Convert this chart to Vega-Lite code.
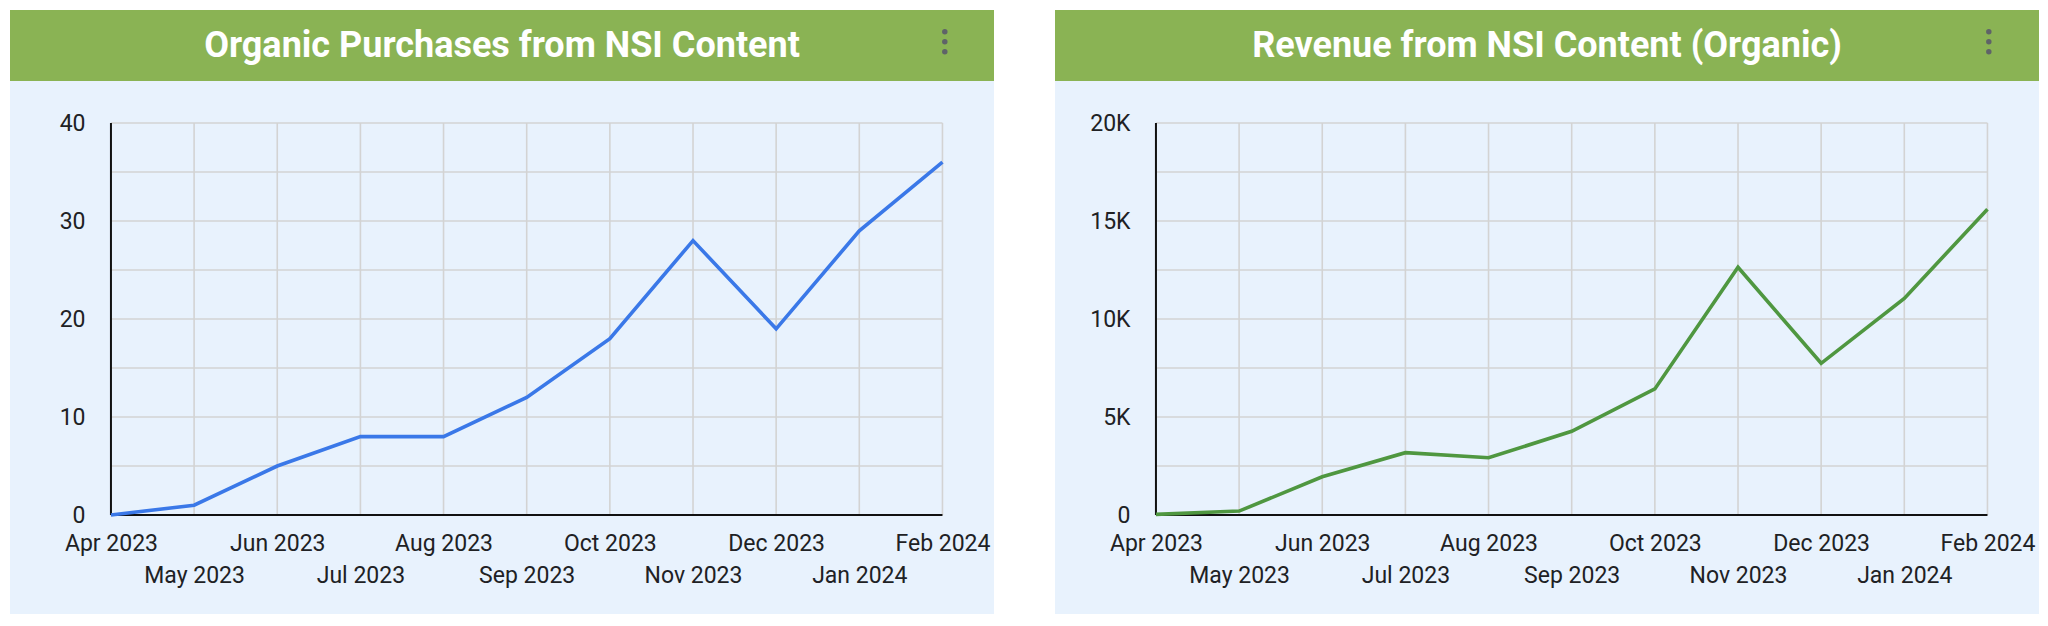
{
  "$schema": "https://vega.github.io/schema/vega-lite/v6.json",
  "background": "white",
  "padding": {"left": 10, "top": 10, "right": 0, "bottom": 0},
  "config": {
    "view": {"stroke": null},
    "font": "Roboto",
    "axis": {"labelFont": "Roboto", "labelFontSize": 23, "labelColor": "#202124", "ticks": false, "tickSize": 0, "domain": false, "grid": false, "labelOverlap": false}
  },
  "datasets": {
    "purchases": [
      {"month": "Apr 2023", "value": 0},
      {"month": "May 2023", "value": 1},
      {"month": "Jun 2023", "value": 5},
      {"month": "Jul 2023", "value": 8},
      {"month": "Aug 2023", "value": 8},
      {"month": "Sep 2023", "value": 12},
      {"month": "Oct 2023", "value": 18},
      {"month": "Nov 2023", "value": 28},
      {"month": "Dec 2023", "value": 19},
      {"month": "Jan 2024", "value": 29},
      {"month": "Feb 2024", "value": 36}
    ],
    "revenue": [
      {"month": "Apr 2023", "value": 30},
      {"month": "May 2023", "value": 200},
      {"month": "Jun 2023", "value": 1950},
      {"month": "Jul 2023", "value": 3180},
      {"month": "Aug 2023", "value": 2920},
      {"month": "Sep 2023", "value": 4270},
      {"month": "Oct 2023", "value": 6430},
      {"month": "Nov 2023", "value": 12640},
      {"month": "Dec 2023", "value": 7740},
      {"month": "Jan 2024", "value": 11050},
      {"month": "Feb 2024", "value": 15600}
    ],
    "gridP": [{"v": 0}, {"v": 5}, {"v": 10}, {"v": 15}, {"v": 20}, {"v": 25}, {"v": 30}, {"v": 35}, {"v": 40}],
    "gridR": [{"v": 0}, {"v": 2500}, {"v": 5000}, {"v": 7500}, {"v": 10000}, {"v": 12500}, {"v": 15000}, {"v": 17500}, {"v": 20000}],
    "dots": [{"i": 1}, {"i": 2}, {"i": 3}]
  },
  "spacing": 61,
  "hconcat": [
    {
      "spacing": 0,
      "vconcat": [
        {
          "width": 984,
          "height": 71,
          "view": {"fill": "#8ab354", "stroke": null},
          "layer": [
            {
              "data": {"values": [{"title": "Organic Purchases from NSI Content"}]},
              "mark": {"type": "text", "fontSize": 36, "fontWeight": "bold", "color": "white", "font": "Roboto", "baseline": "middle", "align": "center"},
              "encoding": {"text": {"field": "title"}}
            },
            {
              "data": {"name": "dots"},
              "mark": {"type": "point", "filled": true, "color": "#5f6368", "size": 30, "opacity": 1},
              "encoding": {
                "x": {"datum": 0.95, "type": "quantitative", "scale": {"domain": [0, 1], "nice": false, "zero": false}, "axis": null},
                "y": {"field": "i", "type": "quantitative", "scale": {"domain": [-1.17, 5.93], "reverse": true, "nice": false, "zero": false}, "axis": null}
              }
            }
          ]
        },
        {
          "width": 984,
          "height": 533,
          "view": {"fill": "#e8f2fd", "stroke": null},
          "layer": [
            {
              "data": {"name": "gridP"},
              "mark": {"type": "rule", "color": "#d3d3d3", "strokeWidth": 1.6},
              "encoding": {
                "y": {"field": "v", "type": "quantitative", "title": null,
                  "scale": {"domain": [-10.102, 44.286], "nice": false, "zero": false},
                  "axis": {"orient": "left", "offset": -101, "values": [0, 10, 20, 30, 40], "labelPadding": 26, "title": null}},
                "x": {"datum": "Apr 2023", "type": "ordinal", "title": null,
                  "scale": {"type": "point", "domain": ["Apr 2023", "May 2023", "Jun 2023", "Jul 2023", "Aug 2023", "Sep 2023", "Oct 2023", "Nov 2023", "Dec 2023", "Jan 2024", "Feb 2024"], "padding": 0.917, "align": 0.662},
                  "axis": {"orient": "bottom", "offset": -99, "labelPadding": 17, "labelLineHeight": 32, "labelAngle": 0, "title": null,
                    "labelExpr": "test(/^(May|Jul|Sep|Nov|Jan)/, datum.label) ? ['', datum.label] : datum.label"}},
                "x2": {"datum": "Feb 2024"}
              }
            },
            {
              "data": {"name": "purchases"},
              "mark": {"type": "rule", "color": "#d3d3d3", "strokeWidth": 1.6},
              "encoding": {
                "x": {"field": "month", "type": "ordinal", "title": null},
                "y": {"datum": 0, "type": "quantitative", "title": null},
                "y2": {"datum": 40}
              }
            },
            {
              "data": {"values": [{"axis": "x"}]},
              "mark": {"type": "rule", "color": "#111111", "strokeWidth": 2},
              "encoding": {
                "x": {"datum": "Apr 2023", "type": "ordinal", "title": null},
                "x2": {"datum": "Feb 2024"},
                "y": {"datum": 0, "type": "quantitative", "title": null}
              }
            },
            {
              "data": {"values": [{"axis": "y"}]},
              "mark": {"type": "rule", "color": "#111111", "strokeWidth": 2},
              "encoding": {
                "x": {"datum": "Apr 2023", "type": "ordinal", "title": null},
                "y": {"datum": 0, "type": "quantitative", "title": null},
                "y2": {"datum": 40}
              }
            },
            {
              "data": {"name": "purchases"},
              "mark": {"type": "line", "color": "#3a78e8", "strokeWidth": 3.6},
              "encoding": {
                "x": {"field": "month", "type": "ordinal", "title": null},
                "y": {"field": "value", "type": "quantitative", "title": null}
              }
            }
          ]
        }
      ]
    },
    {
      "spacing": 0,
      "vconcat": [
        {
          "width": 984,
          "height": 71,
          "view": {"fill": "#8ab354", "stroke": null},
          "layer": [
            {
              "data": {"values": [{"title": "Revenue from NSI Content (Organic)"}]},
              "mark": {"type": "text", "fontSize": 36, "fontWeight": "bold", "color": "white", "font": "Roboto", "baseline": "middle", "align": "center"},
              "encoding": {"text": {"field": "title"}}
            },
            {
              "data": {"name": "dots"},
              "mark": {"type": "point", "filled": true, "color": "#5f6368", "size": 30, "opacity": 1},
              "encoding": {
                "x": {"datum": 0.949, "type": "quantitative", "scale": {"domain": [0, 1], "nice": false, "zero": false}, "axis": null},
                "y": {"field": "i", "type": "quantitative", "scale": {"domain": [-1.17, 5.93], "reverse": true, "nice": false, "zero": false}, "axis": null}
              }
            }
          ]
        },
        {
          "width": 984,
          "height": 533,
          "view": {"fill": "#e8f2fd", "stroke": null},
          "layer": [
            {
              "data": {"name": "gridR"},
              "mark": {"type": "rule", "color": "#d3d3d3", "strokeWidth": 1.6},
              "encoding": {
                "y": {"field": "v", "type": "quantitative", "title": null,
                  "scale": {"domain": [-5051.02, 22142.86], "nice": false, "zero": false},
                  "axis": {"orient": "left", "offset": -101, "values": [0, 5000, 10000, 15000, 20000], "labelPadding": 26, "title": null,
                    "labelExpr": "datum.value == 0 ? '0' : (datum.value / 1000) + 'K'"}},
                "x": {"datum": "Apr 2023", "type": "ordinal", "title": null,
                  "scale": {"type": "point", "domain": ["Apr 2023", "May 2023", "Jun 2023", "Jul 2023", "Aug 2023", "Sep 2023", "Oct 2023", "Nov 2023", "Dec 2023", "Jan 2024", "Feb 2024"], "padding": 0.917, "align": 0.662},
                  "axis": {"orient": "bottom", "offset": -99, "labelPadding": 17, "labelLineHeight": 32, "labelAngle": 0, "title": null,
                    "labelExpr": "test(/^(May|Jul|Sep|Nov|Jan)/, datum.label) ? ['', datum.label] : datum.label"}},
                "x2": {"datum": "Feb 2024"}
              }
            },
            {
              "data": {"name": "revenue"},
              "mark": {"type": "rule", "color": "#d3d3d3", "strokeWidth": 1.6},
              "encoding": {
                "x": {"field": "month", "type": "ordinal", "title": null},
                "y": {"datum": 0, "type": "quantitative", "title": null},
                "y2": {"datum": 20000}
              }
            },
            {
              "data": {"values": [{"axis": "x"}]},
              "mark": {"type": "rule", "color": "#111111", "strokeWidth": 2},
              "encoding": {
                "x": {"datum": "Apr 2023", "type": "ordinal", "title": null},
                "x2": {"datum": "Feb 2024"},
                "y": {"datum": 0, "type": "quantitative", "title": null}
              }
            },
            {
              "data": {"values": [{"axis": "y"}]},
              "mark": {"type": "rule", "color": "#111111", "strokeWidth": 2},
              "encoding": {
                "x": {"datum": "Apr 2023", "type": "ordinal", "title": null},
                "y": {"datum": 0, "type": "quantitative", "title": null},
                "y2": {"datum": 20000}
              }
            },
            {
              "data": {"name": "revenue"},
              "mark": {"type": "line", "color": "#4f9740", "strokeWidth": 3.6},
              "encoding": {
                "x": {"field": "month", "type": "ordinal", "title": null},
                "y": {"field": "value", "type": "quantitative", "title": null}
              }
            }
          ]
        }
      ]
    }
  ]
}
